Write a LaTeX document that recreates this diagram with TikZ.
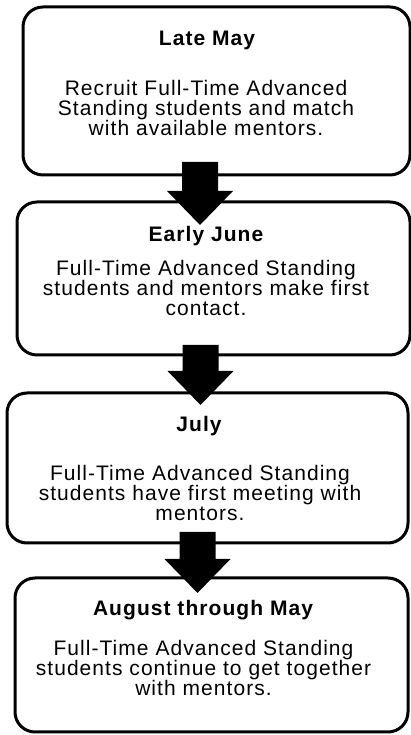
\documentclass[tikz,border=0pt]{standalone}
\usepackage{fontspec}
\setmainfont{Liberation Sans}[LetterSpace=5]
\usetikzlibrary{calc}
\begin{document}
\begin{tikzpicture}[x=1pt,y=1pt,
  box/.style={draw=black, line width=3pt, rounded corners=20pt, inner sep=0pt, outer sep=0pt, fill=white},
  ttl/.style={font=\fontsize{21}{20}\selectfont\bfseries, anchor=base, inner sep=0pt},
  body/.style={font=\fontsize{21}{20}\selectfont, align=center, anchor=north, inner sep=0pt},
  blockarr/.style={fill=black, draw=none, to path={let \p1=(\tikztostart), \p2=(\tikztotarget) in
     (\x1-18pt,\y1) -- (\x1+18pt,\y1) -- (\x1+18pt,\y2+34pt) -- (\x1+33pt,\y2+34pt) -- (\x2,\y2)
     -- (\x1-33pt,\y2+34pt) -- (\x1-18pt,\y2+34pt) -- cycle}}]
\useasboundingbox (0,0) rectangle (411,735);
\fill[white] (0,0) rectangle (411,735);
% boxes
\node[box, minimum width=387pt, minimum height=168pt] (b1) at (216.5,644) {};
\node[box, minimum width=393pt, minimum height=153pt] (b2) at (213.5,456.5) {};
\node[box, minimum width=401pt, minimum height=150pt] (b3) at (207.5,267) {};
\node[box, minimum width=393pt, minimum height=154pt] (b4) at (211.5,80) {};
% titles
\node[ttl] (t1) at (207,689) {Late May};
\node[ttl] (t2) at (206,493) {Early June};
\node[ttl] (t3) at (199,303) {July};
\node[ttl] (t4) at (203,119) {August through May};
% bodies
\node[body] (d1) at (206,655.3) {Recruit Full-Time Advanced\\Standing students and match\\with available mentors.};
\node[body] (d2) at (206,475.3) {Full-Time Advanced Standing\\students and mentors make first\\contact.};
\node[body] (d3) at (200,270.3) {Full-Time Advanced Standing\\students have first meeting with\\mentors.};
\node[body] (d4) at (203.5,95.3) {Full-Time Advanced Standing\\students continue to get together\\with mentors.};
% arrows
\coordinate (a1s) at (200,573); \coordinate (a1e) at (200,510);
\coordinate (a2s) at (200.5,390); \coordinate (a2e) at (200.5,330);
\coordinate (a3s) at (197.5,203); \coordinate (a3e) at (197.5,142);
\path[blockarr] (a1s) to (a1e);
\path[blockarr] (a2s) to (a2e);
\path[blockarr] (a3s) to (a3e);
\end{tikzpicture}
\end{document}
